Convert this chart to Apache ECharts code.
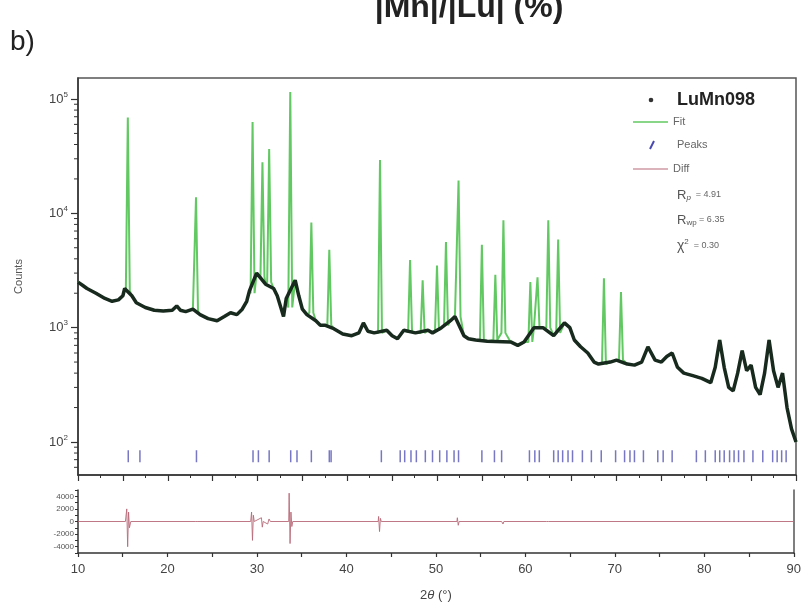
<!DOCTYPE html>
<html>
<head>
<meta charset="UTF-8">
<title>LuMn098 XRD refinement</title>
<script src="https://cdn.jsdelivr.net/npm/echarts@6/dist/echarts.min.js"></script>
<style>
  html, body { margin: 0; padding: 0; background: #fff; }
  #chart { width: 804px; height: 610px; }
</style>
</head>
<body>
<div id="chart"></div>
<script>
// observed profile without the sharp Bragg peaks (black band), 2theta in degrees / counts
var bgAngle = [10, 10.5, 11, 12, 13, 13.8, 14.5, 15.0, 15.2, 16.0, 16.5, 17.5, 18.5, 19.5, 20.5, 21.0, 21.4, 22.0, 22.8,
  23.6, 24.5, 25.5, 26.3, 27.0, 27.7, 28.3, 28.8, 29.1, 29.9, 30.9, 31.8, 32.2, 32.6, 32.9, 33.2, 34.2, 34.6, 35.0, 35.5,
  36.5, 37.0, 37.5, 38.5, 39.5, 40.5, 41.3, 41.8, 42.3, 43.0, 44.4, 45.0, 45.6, 46.3, 47.6, 49.0, 49.5, 50.5, 51.5, 52.0,
  53.0, 53.5, 54.3, 55.6, 58.2, 59.0, 59.7, 60.8, 61.8, 63.0, 64.2, 64.8, 65.3, 66.0, 66.8, 67.5, 68.0, 69.3, 70.0, 71.2,
  72.0, 72.8, 73.5, 74.3, 75.0, 75.6, 76.2, 76.8, 77.5, 78.5, 79.5, 80.5, 81.0, 81.5, 82.0, 82.5, 83.0, 83.5, 84.0, 84.5,
  85.0, 85.5, 86.0, 86.5, 87.0, 87.5, 88.0, 88.5, 89.0, 89.5, 90.0];
var bgCounts = [2500, 2350, 2200, 2000, 1800, 1700, 1750, 1900, 2200, 1900, 1650, 1500, 1420, 1400, 1420, 1550, 1420, 1380, 1450,
  1300, 1200, 1150, 1250, 1350, 1300, 1450, 1700, 2100, 3000, 2400, 2200, 1900, 1500, 1250, 1800, 2600, 1900, 1450, 1300,
  1150, 1050, 1050, 980, 880, 850, 900, 1100, 930, 900, 950, 850, 800, 950, 900, 950, 900, 1000, 1150, 1250,
  850, 800, 780, 760, 750, 700, 750, 1000, 1000, 850, 1100, 1000, 780, 680, 600, 500, 480, 500, 520, 480,
  470, 500, 680, 520, 500, 560, 600, 450, 400, 380, 360, 330, 450, 780, 450, 300, 280, 400, 630, 420,
  470, 300, 260, 400, 780, 420, 300, 400, 200, 130, 100];

// sharp Bragg peaks of the fit: position, foot level, apex counts
var peakAngle = [15.55, 23.15, 29.45, 30.55, 31.3, 33.65, 36.0, 38.0, 43.65, 47.0, 48.4, 50.0, 51.0, 52.4,
  55.0, 56.5, 57.4, 60.4, 61.2, 62.4, 63.5, 68.6, 70.5];
var peakBase = [2100, 1400, 2000, 2800, 2500, 1500, 1350, 1050, 900, 920, 900, 950, 1050, 1250,
  780, 780, 900, 750, 1000, 1000, 900, 480, 520];
var peakTop = [69000, 13800, 63000, 28000, 36600, 115000, 8300, 4800, 29300, 3900, 2600, 3500, 5600, 19400,
  5300, 2900, 8700, 2500, 2760, 8700, 5900, 2700, 2050];

// reflection markers
var reflAngle = [15.6, 16.9, 23.2, 29.5, 30.1, 31.3, 33.7, 34.4, 36.0, 38.0, 38.2, 43.8, 45.9, 46.4, 47.1, 47.7,
  48.7, 49.5, 50.3, 51.1, 51.9, 52.4, 55.0, 56.4, 57.2, 60.3, 60.9, 61.4, 63.0, 63.5, 64.0, 64.6, 65.1, 66.2,
  67.2, 68.3, 69.9, 70.9, 71.5, 72.0, 73.0, 74.6, 75.2, 76.2, 78.9, 79.9, 81.0, 81.5, 82.0, 82.6, 83.1, 83.6,
  84.2, 85.2, 86.3, 87.4, 87.9, 88.4, 88.9];
var reflLevel = 75;

// difference curve
var diffAngle = [10, 15.3, 15.45, 15.55, 15.65, 15.75, 15.9, 23.1, 23.2, 23.3, 23.4, 29.3, 29.4, 29.5, 29.6, 29.7,
  30.5, 30.6, 30.7, 31.2, 31.35, 31.5, 33.55, 33.6, 33.7, 33.8, 33.9, 34.0, 43.55, 43.6, 43.7, 43.8, 43.9,
  52.35, 52.4, 52.5, 52.6, 57.35, 57.4, 57.5, 57.6, 62.35, 62.4, 62.5, 62.6, 90];
var diffValue = [0, 0, 2000, -4000, 1500, -1000, 0, 0, 300, -300, 0, 0, 1500, -3000, 1000, 0,
  600, -900, 0, -400, 400, 0, 0, 4500, -3500, 1500, -800, 0, 0, 800, -1600, 500, 0,
  0, 600, -600, 0, 0, 300, -400, 0, 0, 250, -300, 0, 0];

// minor ticks of the log axis
var logMinorTicks = [60, 70, 80, 90, 200, 300, 400, 500, 600, 700, 800, 900, 2000, 3000, 4000, 5000, 6000, 7000, 8000, 9000,
  20000, 30000, 40000, 50000, 60000, 70000, 80000, 90000];

var bgData = bgAngle.map(function (a, i) { return [a, bgCounts[i]]; });
var fitData = bgData.slice();
peakAngle.forEach(function (a, i) {
  fitData.push([a - 0.22, peakBase[i]], [a, peakTop[i]], [a + 0.22, peakBase[i]]);
});
fitData.sort(function (p, q) { return p[0] - q[0]; });
var reflData = reflAngle.map(function (a) { return [a, reflLevel]; });
var diffData = diffAngle.map(function (a, i) { return [a, diffValue[i]]; });

var axisCol = '#333';
var font = 'Liberation Sans, Arial, sans-serif';

var chart = echarts.init(document.getElementById('chart'), null, { renderer: 'canvas' });
chart.setOption({
  animation: false,
  backgroundColor: '#fff',
  textStyle: { fontFamily: font },
  grid: [
    { left: 78, top: 78, width: 718, height: 397, show: true, borderColor: '#555', borderWidth: 1.5, backgroundColor: 'transparent' },
    { left: 78, top: 490, width: 718, height: 63 }
  ],
  xAxis: [
    { gridIndex: 0, type: 'value', min: 10, max: 90, interval: 5,
      axisLine: { lineStyle: { color: axisCol, width: 1.5 } },
      axisTick: { length: 6, lineStyle: { color: axisCol, width: 1.2 } },
      minorTick: { show: true, splitNumber: 2, length: 3, lineStyle: { color: axisCol, width: 1 } },
      axisLabel: { show: false }, splitLine: { show: false } },
    { gridIndex: 1, type: 'value', min: 10, max: 90, interval: 5,
      axisLine: { onZero: false, lineStyle: { color: axisCol, width: 1.5 } },
      axisTick: { length: 4, lineStyle: { color: axisCol, width: 1.2 } },
      axisLabel: { color: '#444', fontSize: 13, margin: 10,
        formatter: function (v) { return v % 10 === 0 ? String(v) : ''; } },
      splitLine: { show: false },
      name: '2{i|θ} (°)', nameLocation: 'middle', nameGap: 36,
      nameTextStyle: { color: '#444', fontSize: 13, rich: { i: { fontStyle: 'italic', fontSize: 13, color: '#444' } } } }
  ],
  yAxis: [
    { gridIndex: 0, type: 'log', min: 51.4, max: 152700, logBase: 10,
      axisLine: { lineStyle: { color: axisCol, width: 1.5 } },
      axisTick: { length: 7, lineStyle: { color: axisCol, width: 1.2 } },
      axisLabel: { color: '#444', fontSize: 13, margin: 10, showMinLabel: false, showMaxLabel: false,
        formatter: function (v) {
          var e = Math.log10(v);
          if (Math.abs(e - Math.round(e)) > 1e-6) return '';
          return '10{s|' + Math.round(e) + '}';
        },
        rich: { s: { fontSize: 8, color: '#444', padding: [0, 0, 9, 0] } } },
      splitLine: { show: false },
      name: 'Counts', nameLocation: 'middle', nameGap: 54,
      nameTextStyle: { color: '#555', fontSize: 11 } },
    { gridIndex: 1, type: 'value', min: -5000, max: 5000, interval: 1000,
      axisLine: { lineStyle: { color: axisCol, width: 1.5 } },
      axisTick: { length: 3, lineStyle: { color: axisCol, width: 1 } },
      axisLabel: { color: '#555', fontSize: 8, margin: 4,
        formatter: function (v) { return v % 2000 === 0 && Math.abs(v) < 5000 ? String(v) : ''; } },
      splitLine: { show: false } },
    { gridIndex: 1, type: 'value', min: -5000, max: 5000, position: 'right',
      axisLine: { show: true, lineStyle: { color: '#555', width: 1.5 } },
      axisTick: { show: false }, axisLabel: { show: false }, splitLine: { show: false } }
  ],
  series: [
    { name: 'LuMn098', type: 'line', xAxisIndex: 0, yAxisIndex: 0, data: bgData, showSymbol: false,
      lineStyle: { color: '#182a1e', width: 3.5 }, z: 4 },
    { name: 'Fit', type: 'line', xAxisIndex: 0, yAxisIndex: 0, data: fitData, showSymbol: false,
      lineStyle: { color: '#62c962', width: 2 }, z: 3 },
    { name: 'Peaks', type: 'scatter', xAxisIndex: 0, yAxisIndex: 0, data: reflData,
      symbol: 'rect', symbolSize: [1.5, 12], itemStyle: { color: '#5555b5', opacity: 0.8 }, z: 4 },
    { name: 'logMinor', type: 'custom', xAxisIndex: 0, yAxisIndex: 0, clip: false,
      data: logMinorTicks.map(function (v) { return [10, v]; }),
      renderItem: function (params, api) {
        var p = api.coord([api.value(0), api.value(1)]);
        return { type: 'line', shape: { x1: p[0] - 4, y1: p[1], x2: p[0], y2: p[1] },
          style: { stroke: axisCol, lineWidth: 1 } };
      }, z: 5 },
    { name: 'Diff', type: 'line', xAxisIndex: 1, yAxisIndex: 1, data: diffData, showSymbol: false,
      lineStyle: { color: '#b86a78', width: 0.9 }, z: 3 }
  ],
  graphic: [
    { type: 'text', left: 10, top: 28, style: { text: 'b)', fontSize: 28, fill: '#222', fontFamily: font } },
    { type: 'text', x: 469, y: 24, style: { text: '|Mn|/|Lu| (%)', fontSize: 32, fontWeight: 'bold', fill: '#222',
      align: 'center', verticalAlign: 'bottom', fontFamily: font } },
    { type: 'circle', shape: { cx: 651, cy: 100, r: 2.3 }, style: { fill: '#333' }, z: 10 },
    { type: 'text', x: 677, y: 100, style: { text: 'LuMn098', fontSize: 18, fontWeight: 'bold', fill: '#222',
      verticalAlign: 'middle', fontFamily: font }, z: 10 },
    { type: 'line', shape: { x1: 633, y1: 122, x2: 668, y2: 122 }, style: { stroke: '#62c962', lineWidth: 1.5 }, z: 10 },
    { type: 'text', x: 673, y: 122, style: { text: 'Fit', fontSize: 11, fill: '#666', verticalAlign: 'middle', fontFamily: font }, z: 10 },
    { type: 'line', shape: { x1: 650, y1: 149, x2: 654, y2: 141 }, style: { stroke: '#4848b0', lineWidth: 2 }, z: 10 },
    { type: 'text', x: 677, y: 145, style: { text: 'Peaks', fontSize: 11, fill: '#666', verticalAlign: 'middle', fontFamily: font }, z: 10 },
    { type: 'line', shape: { x1: 633, y1: 169, x2: 668, y2: 169 }, style: { stroke: '#b86a78', lineWidth: 1.2 }, z: 10 },
    { type: 'text', x: 673, y: 169, style: { text: 'Diff', fontSize: 11, fill: '#666', verticalAlign: 'middle', fontFamily: font }, z: 10 },
    { type: 'text', x: 677, y: 195, style: { text: '{r|R}{b|p}{e|  = 4.91}', verticalAlign: 'middle', fontFamily: font,
      rich: { r: { fontSize: 13, fill: '#555' }, b: { fontSize: 8, fontStyle: 'italic', fill: '#555', padding: [6, 0, 0, 0] }, e: { fontSize: 9, fill: '#666' } } }, z: 10 },
    { type: 'text', x: 677, y: 220, style: { text: '{r|R}{b|wp}{e| = 6.35}', verticalAlign: 'middle', fontFamily: font,
      rich: { r: { fontSize: 13, fill: '#555' }, b: { fontSize: 8, fill: '#555', padding: [6, 0, 0, 0] }, e: { fontSize: 9, fill: '#666' } } }, z: 10 },
    { type: 'text', x: 677, y: 246, style: { text: '{r|χ}{b|2}{e|  = 0.30}', verticalAlign: 'middle', fontFamily: font,
      rich: { r: { fontSize: 14, fill: '#555' }, b: { fontSize: 8, fill: '#555', padding: [0, 0, 8, 0] }, e: { fontSize: 9, fill: '#666' } } }, z: 10 }
  ]
});
</script>
</body>
</html>
